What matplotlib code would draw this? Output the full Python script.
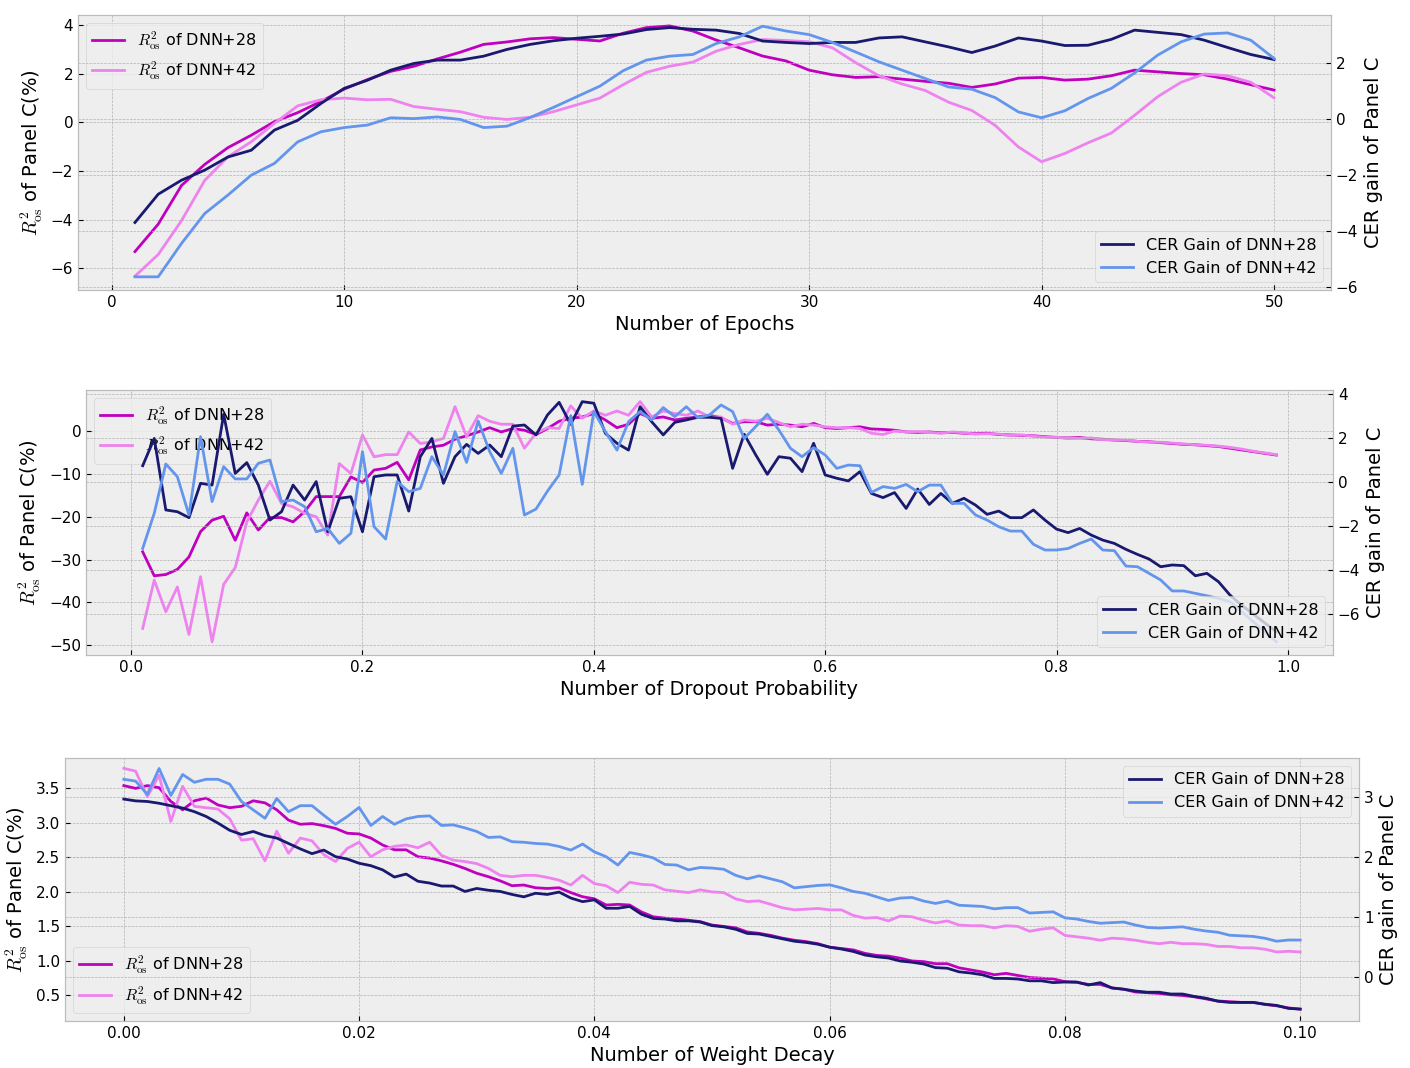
import numpy as np
import matplotlib
matplotlib.use("Agg")
import matplotlib.pyplot as plt

# ---------------- data ----------------
epochs = np.arange(1, 51)
r2_28_ep = [-5.32, -4.19, -2.60, -1.73, -1.04, -0.53, 0.03, 0.40, 0.86, 1.37,
            1.76, 2.10, 2.31, 2.61, 2.89, 3.21, 3.31, 3.44, 3.49, 3.42,
            3.35, 3.67, 3.90, 3.97, 3.76, 3.39, 3.07, 2.73, 2.53, 2.15,
            1.96, 1.85, 1.88, 1.78, 1.69, 1.61, 1.44, 1.58, 1.82, 1.85,
            1.74, 1.78, 1.92, 2.15, 2.08, 2.01, 1.96, 1.78, 1.55, 1.33]
r2_42_ep = [-6.33, -5.44, -4.05, -2.39, -1.42, -0.80, -0.04, 0.68, 0.93, 1.00,
            0.93, 0.95, 0.65, 0.54, 0.44, 0.21, 0.12, 0.21, 0.44, 0.72,
            1.00, 1.55, 2.06, 2.31, 2.48, 2.93, 3.21, 3.41, 3.37, 3.32,
            3.07, 2.46, 1.92, 1.58, 1.31, 0.83, 0.49, -0.12, -1.01, -1.62,
            -1.28, -0.84, -0.44, 0.29, 1.06, 1.65, 1.99, 1.92, 1.65, 1.01]
cer_28_ep = [-3.69, -2.68, -2.18, -1.82, -1.35, -1.11, -0.39, -0.04, 0.56, 1.10,
             1.39, 1.75, 1.99, 2.11, 2.11, 2.25, 2.49, 2.67, 2.80, 2.89,
             2.96, 3.04, 3.20, 3.27, 3.21, 3.18, 3.06, 2.79, 2.74, 2.70,
             2.74, 2.74, 2.90, 2.94, 2.76, 2.58, 2.38, 2.61, 2.90, 2.79,
             2.63, 2.64, 2.85, 3.18, 3.10, 3.02, 2.82, 2.56, 2.31, 2.13]
cer_42_ep = [-5.63, -5.63, -4.44, -3.37, -2.71, -2.00, -1.58, -0.81, -0.45, -0.30,
             -0.21, 0.05, 0.02, 0.08, -0.01, -0.30, -0.25, 0.06, 0.42, 0.80,
             1.18, 1.73, 2.11, 2.25, 2.31, 2.70, 2.94, 3.32, 3.15, 3.02,
             2.74, 2.40, 2.05, 1.75, 1.45, 1.15, 1.07, 0.77, 0.26, 0.05,
             0.30, 0.74, 1.10, 1.65, 2.29, 2.76, 3.04, 3.08, 2.82, 2.17]

dropout = np.round(np.arange(1, 100) / 100, 2)
r2_28_dp = [-28.2, -33.8, -33.5, -32.3, -29.4, -23.5, -20.8, -19.9, -25.5, -19.1,
            -23.1, -20.2, -20.2, -21.2, -18.8, -15.3, -15.3, -15.3, -10.7, -12.0,
            -9.1, -8.7, -7.3, -11.4, -4.4, -3.7, -3.3, -1.9, -1.1, -0.2,
            0.8, -0.2, 0.6,
            0.2, -0.8, 0.6, 2.3, 3.0, 3.3, 4.1, 2.6, 0.8, 1.6,
            4.1, 3.0, 3.3, 2.6, 3.0, 3.3, 3.7, 3.1, 1.8, 2.2,
            2.2, 1.4, 1.6, 1.4, 1.0, 1.8, 0.8, 0.6, 0.8, 1.0,
            0.5, 0.4, 0.2, -0.2,
            -0.3, -0.2, -0.4, -0.3, -0.5, -0.6, -0.5, -0.8, -0.9, -1.0,
            -1.1, -1.3, -1.5, -1.6, -1.5, -1.8, -1.9, -2.1, -2.2, -2.4,
            -2.5, -2.7, -2.9, -3.1, -3.2, -3.4, -3.6, -4.0, -4.4, -4.8,
            -5.2, -5.6]
r2_42_dp = [-46.1, -34.8, -42.2, -36.4, -47.5, -34.0, -49.2, -35.8, -31.9, -21.2,
            -16.1, -11.7, -16.9, -17.7, -19.2, -20.0, -24.3, -7.6, -9.9, -0.9,
            -6.0, -5.5, -5.5, -0.2, -2.9, -2.5, -1.7, 5.7, -1.3, 3.6,
            2.3, 1.6, 1.6,
            -4.0, -0.5, 0.8, 0.6, 5.9, 3.0, 4.7, 3.7, 4.7, 3.7,
            6.9, 3.3, 4.7, 4.1, 3.7, 4.7, 3.3, 3.3, 1.6, 2.6,
            2.3, 3.0, 2.0, 1.0, 1.6, 1.4, 1.0, 0.8, 0.8, 0.6,
            -0.5, -0.8, 0.0, -0.2,
            -0.1, -0.3, -0.5, -0.2, -0.4, -0.7, -0.6, -0.7, -1.0, -0.9,
            -1.2, -1.4, -1.4, -1.7, -1.7, -1.6, -2.0, -2.1, -2.1, -2.4,
            -2.6, -2.6, -2.8, -3.0, -3.2, -3.3, -3.5, -3.8, -4.2, -4.7,
            -5.1, -5.5]
cer_28_dp = [0.74, 1.98, -1.27, -1.35, -1.62, -0.06, -0.14, 3.08, 0.39, 0.88,
             -0.14, -1.73, -1.35, -0.14, -0.82, 0.02, -2.26, -0.74, -0.67, -2.26,
             0.24, 0.32, 0.32, -1.32, 1.15, 1.98, -0.06, 1.15, 1.71, 1.30,
             1.68, 1.15, 2.54,
             2.59, 2.14, 3.05, 3.62, 2.62, 3.65, 3.58, 2.21, 1.76, 1.45,
             3.42, 2.74, 2.14, 2.71, 2.82, 2.94, 2.94, 2.89, 0.62, 2.17,
             1.23, 0.35, 1.15, 1.08, 0.47, 1.76, 0.32, 0.17, 0.05, 0.47,
             -0.52, -0.71, -0.48, -1.20,
             -0.32, -1.02, -0.52, -0.97, -0.74, -1.05, -1.47, -1.32, -1.62, -1.62,
             -1.27, -1.73, -2.14, -2.30, -2.11, -2.41, -2.64, -2.79, -3.06, -3.29,
             -3.50, -3.85, -3.77, -3.80, -4.26, -4.15, -4.53, -5.14, -5.60, -6.00,
             -6.40, -6.80]
cer_42_dp = [-3.02, -1.42, 0.82, 0.24, -1.50, 2.06, -0.89, 0.70, 0.14, 0.14,
             0.85, 1.00, -0.89, -0.82, -1.12, -2.26, -2.11, -2.79, -2.33, 1.38,
             -2.03, -2.59, 0.02, -0.44, -0.29, 1.15, 0.32, 2.29, 0.89, 2.77,
             1.38, 0.39, 1.53,
             -1.50, -1.23, -0.41, 0.32, 3.02, -0.11, 3.20, 2.29, 1.45, 2.74,
             3.20, 2.82, 3.38, 2.97, 3.42, 2.92, 3.05, 3.50, 3.20, 1.98,
             2.52, 3.08, 2.36, 1.53, 1.15, 1.56, 1.23, 0.62, 0.77, 0.74,
             -0.47, -0.21, -0.29, -0.11,
             -0.44, -0.14, -0.14, -0.97, -0.97, -1.50, -1.73, -2.03, -2.23, -2.23,
             -2.83, -3.09, -3.09, -3.02, -2.79, -2.59, -3.09, -3.12, -3.82, -3.85,
             -4.15, -4.45, -4.95, -4.95, -5.06, -5.17, -5.29, -5.44, -5.89, -6.35,
             -6.80, -7.26]

decay = np.round(np.arange(0, 101) / 1000, 3)
r2_28_wd = [3.54, 3.50, 3.54, 3.51, 3.31, 3.19, 3.32, 3.36, 3.26, 3.22,
            3.24, 3.32, 3.29, 3.19, 3.04, 2.98, 2.99, 2.96, 2.92, 2.85,
            2.84, 2.78, 2.68, 2.61, 2.61, 2.51, 2.49, 2.45, 2.40, 2.34,
            2.27, 2.22, 2.16, 2.09,
            2.10, 2.06, 2.05, 2.06, 1.99, 1.93, 1.90, 1.81, 1.82, 1.81,
            1.71, 1.64, 1.62, 1.61, 1.59, 1.57, 1.52, 1.50, 1.48, 1.42,
            1.40, 1.37, 1.33, 1.30, 1.28, 1.25, 1.20, 1.18, 1.16, 1.11,
            1.08, 1.07, 1.04, 1.00,
            0.99, 0.96, 0.96, 0.90, 0.87, 0.84, 0.80, 0.82, 0.79, 0.76,
            0.75, 0.74, 0.70, 0.69, 0.66, 0.66, 0.61, 0.59, 0.55, 0.54,
            0.53, 0.51, 0.50, 0.48, 0.45, 0.42, 0.41, 0.40, 0.40, 0.37,
            0.35, 0.32, 0.30]
r2_42_wd = [3.79, 3.75, 3.38, 3.69, 3.02, 3.53, 3.24, 3.22, 3.20, 3.06,
            2.75, 2.77, 2.45, 2.88, 2.56, 2.78, 2.74, 2.54, 2.44, 2.63,
            2.72, 2.51, 2.61, 2.66, 2.68, 2.64, 2.72, 2.53, 2.46, 2.44,
            2.41, 2.34, 2.24, 2.22,
            2.24, 2.24, 2.21, 2.17, 2.10, 2.24, 2.12, 2.09, 1.99, 2.14,
            2.11, 2.10, 2.03, 2.01, 1.99, 2.03, 2.00, 1.99, 1.90, 1.86,
            1.87, 1.82, 1.77, 1.74, 1.75, 1.76, 1.74, 1.74, 1.66, 1.62,
            1.63, 1.58, 1.65, 1.64,
            1.59, 1.55, 1.58, 1.52, 1.51, 1.51, 1.48, 1.51, 1.50, 1.43,
            1.46, 1.48, 1.37, 1.35, 1.33, 1.30, 1.33, 1.32, 1.30, 1.27,
            1.25, 1.27, 1.25, 1.25, 1.24, 1.21, 1.21, 1.19, 1.19, 1.17,
            1.13, 1.14, 1.13]
cer_28_wd = [2.96, 2.93, 2.92, 2.89, 2.85, 2.81, 2.75, 2.67, 2.56, 2.44,
             2.37, 2.42, 2.35, 2.31, 2.22, 2.13, 2.05, 2.11, 2.00, 1.96,
             1.89, 1.85, 1.78, 1.66, 1.71, 1.59, 1.56, 1.51, 1.51, 1.42,
             1.47, 1.44, 1.42, 1.37,
             1.33, 1.39, 1.37, 1.41, 1.31, 1.25, 1.28, 1.14, 1.14, 1.17,
             1.04, 0.97, 0.96, 0.93, 0.93, 0.91, 0.85, 0.83, 0.79, 0.72,
             0.71, 0.67, 0.63, 0.59, 0.57, 0.54, 0.49, 0.46, 0.42, 0.36,
             0.33, 0.31, 0.26, 0.24,
             0.21, 0.15, 0.14, 0.08, 0.06, 0.03, -0.03, -0.03, -0.04, -0.07,
             -0.07, -0.10, -0.09, -0.09, -0.14, -0.10, -0.19, -0.21, -0.24, -0.26,
             -0.26, -0.29, -0.29, -0.33, -0.36, -0.41, -0.43, -0.43, -0.43, -0.46,
             -0.48, -0.53, -0.54]
cer_42_wd = [3.29, 3.26, 3.04, 3.47, 3.02, 3.37, 3.24, 3.29, 3.29, 3.21,
             2.92, 2.78, 2.64, 2.97, 2.75, 2.85, 2.85, 2.69, 2.54, 2.67,
             2.82, 2.52, 2.67, 2.54, 2.63, 2.67, 2.68, 2.52, 2.53, 2.48,
             2.42, 2.32, 2.33, 2.25,
             2.24, 2.22, 2.21, 2.17, 2.11, 2.21, 2.08, 2.00, 1.86, 2.07,
             2.03, 1.98, 1.87, 1.86, 1.78, 1.82, 1.81, 1.79, 1.69, 1.63,
             1.68, 1.63, 1.58, 1.48, 1.50, 1.52, 1.53, 1.48, 1.42, 1.39,
             1.33, 1.27, 1.31, 1.32,
             1.26, 1.22, 1.26, 1.19, 1.18, 1.17, 1.13, 1.15, 1.15, 1.06,
             1.07, 1.08, 0.98, 0.96, 0.92, 0.89, 0.90, 0.91, 0.86, 0.82,
             0.81, 0.82, 0.83, 0.79, 0.76, 0.74, 0.69, 0.68, 0.67, 0.64,
             0.59, 0.61, 0.61]

# ---------------- style ----------------
plt.style.use('bmh')
plt.rcParams['font.family'] = ['DejaVu Sans']

C_R28 = 'm'
C_R42 = 'violet'
C_C28 = 'midnightblue'
C_C42 = 'cornflowerblue'

LBL_R28 = r'$R^2_{\rm os}$ of DNN+28'
LBL_R42 = r'$R^2_{\rm os}$ of DNN+42'
LBL_C28 = 'CER Gain of DNN+28'
LBL_C42 = 'CER Gain of DNN+42'

LABEL_FS = 14
TICK_FS = 11
LEGEND_FS = 11.5

W, H = 1410, 1068
fig = plt.figure(figsize=(W / 100, H / 100), dpi=100)


def pos(left, right, top, bottom):
    return [left / W, (H - bottom) / H, (right - left) / W, (bottom - top) / H]


panels = [
    dict(rect=pos(78, 1331, 15, 290), x=epochs, r28=r2_28_ep, r42=r2_42_ep,
         c28=cer_28_ep, c42=cer_42_ep, xlim=(-1.45, 52.45),
         ylim=(-6.9, 4.42), y2lim=(-6.1, 3.72),
         yt=[-6, -4, -2, 0, 2, 4], y2t=[-6, -4, -2, 0, 2],
         xt=[0, 10, 20, 30, 40, 50],
         xlabel='Number of Epochs', leg1='upper left', leg2='lower right'),
    dict(rect=pos(86, 1333, 390, 655), x=dropout, r28=r2_28_dp, r42=r2_42_dp,
         c28=cer_28_dp, c42=cer_42_dp, xlim=(-0.039, 1.039),
         ylim=(-52.3, 9.6), y2lim=(-7.86, 4.18),
         yt=[-50, -40, -30, -20, -10, 0], y2t=[-6, -4, -2, 0, 2, 4],
         xt=[0.0, 0.2, 0.4, 0.6, 0.8, 1.0],
         xlabel='Number of Dropout Probability', leg1='upper left', leg2='lower right'),
    dict(rect=pos(65, 1359, 758, 1021), x=decay, r28=r2_28_wd, r42=r2_42_wd,
         c28=cer_28_wd, c42=cer_42_wd, xlim=(-0.005, 0.105),
         ylim=(0.13, 3.94), y2lim=(-0.74, 3.645),
         yt=[0.5, 1.0, 1.5, 2.0, 2.5, 3.0, 3.5], y2t=[0, 1, 2, 3],
         xt=[0.0, 0.02, 0.04, 0.06, 0.08, 0.10],
         xlabel='Number of Weight Decay', leg1='lower left', leg2='upper right'),
]

for i, p in enumerate(panels):
    ax = fig.add_axes(p['rect'])
    ax.plot(p['x'], p['r28'], color=C_R28, lw=2.0, label=LBL_R28)
    ax.plot(p['x'], p['r42'], color=C_R42, lw=2.0, label=LBL_R42)
    ax.set_xlim(*p['xlim'])
    ax.set_ylim(*p['ylim'])
    ax.set_xticks(p['xt'])
    ax.set_yticks(p['yt'])
    if i == 2:
        ax.set_xticklabels(['%.2f' % v for v in p['xt']])
    ax.set_ylabel(r'$R^2_{\rm os}$ of Panel C(%)', fontsize=LABEL_FS)
    ax.set_xlabel(p['xlabel'], fontsize=LABEL_FS)
    ax.tick_params(direction='in', labelsize=TICK_FS)
    ax.legend(loc=p['leg1'], fontsize=LEGEND_FS)

    ax2 = ax.twinx()
    ax2.plot(p['x'], p['c28'], color=C_C28, lw=2.0, label=LBL_C28)
    ax2.plot(p['x'], p['c42'], color=C_C42, lw=2.0, label=LBL_C42)
    ax2.set_xlim(*p['xlim'])
    ax2.set_ylim(*p['y2lim'])
    ax2.set_yticks(p['y2t'])
    ax2.set_ylabel('CER gain of Panel C', fontsize=LABEL_FS)
    ax2.tick_params(direction='in', labelsize=TICK_FS)
    ax2.legend(loc=p['leg2'], fontsize=LEGEND_FS)

fig.savefig('out.png', dpi=100, facecolor='white')
